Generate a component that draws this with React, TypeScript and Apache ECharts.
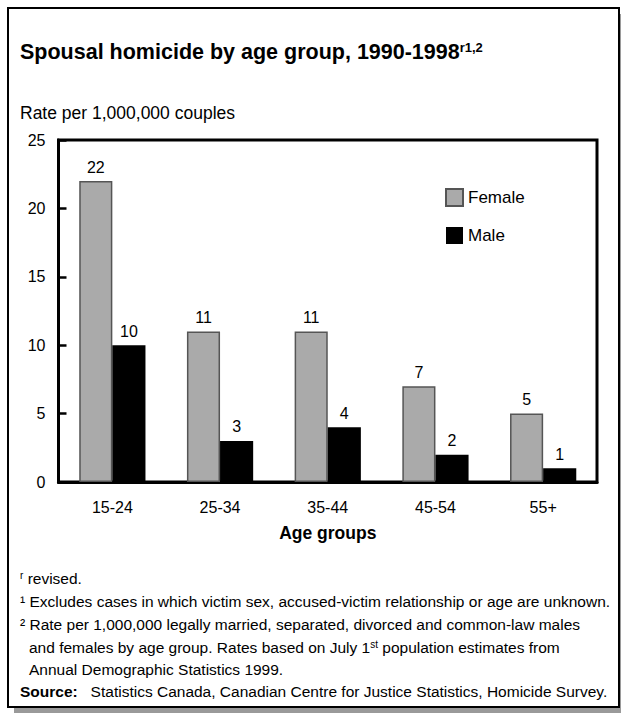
import React, { useEffect, useRef } from "react";
import * as echarts from "echarts";

const categories = ["15-24", "25-34", "35-44", "45-54", "55+"];
const femaleValues = [22, 11, 11, 7, 5];
const maleValues = [10, 3, 4, 2, 1];
const seriesNames = ["Female", "Male"];
const yTicks = { min: 0, max: 25, interval: 5 };

const titleText = "Spousal homicide by age group, 1990-1998";
const titleSup = "r1,2";
const yAxisTitle = "Rate per 1,000,000 couples";
const xAxisTitle = "Age groups";

const FONT = "'Liberation Sans', Arial, Helvetica, sans-serif";

export default function App() {
  const ref = useRef<HTMLDivElement>(null);
  useEffect(() => {
    if (!ref.current) return;
    const chart = echarts.init(ref.current, undefined, { renderer: "svg" });
    const noteStyle = { fontFamily: FONT, fontSize: 15.5, fill: "#000" };
    const supRich = { sup: { fontSize: 10, verticalAlign: "top", fontFamily: FONT, fill: "#000" } };
    const note = (x: number, y: number, text: string, extraRich: any = {}) => ({
      type: "text",
      x,
      y,
      silent: true,
      style: {
        text,
        ...noteStyle,
        verticalAlign: "middle",
        rich: { ...supRich, ...extraRich },
      },
    });
    chart.setOption({
      animation: false,
      backgroundColor: "#fff",
      textStyle: { fontFamily: FONT },
      graphic: [
        { type: "rect", z: -10, shape: { x: 14, y: 14, width: 611, height: 699 }, style: { fill: "#9a9a9a" }, silent: true },
        { type: "rect", z: -9, shape: { x: 8, y: 8, width: 611, height: 699 }, style: { fill: "#fff", stroke: "#000", lineWidth: 2 }, silent: true },
        {
          type: "text",
          x: 20,
          y: 52,
          silent: true,
          style: {
            text: `{t|${titleText}}{s|${titleSup}}`,
            verticalAlign: "middle",
            rich: {
              t: { fontFamily: FONT, fontSize: 21.5, fontWeight: "bold", fill: "#000", verticalAlign: "bottom" },
              s: { fontFamily: FONT, fontSize: 13, fontWeight: "bold", fill: "#000", verticalAlign: "top" },
            },
          },
        },
        { type: "text", x: 20, y: 113, silent: true, style: { text: yAxisTitle, fontFamily: FONT, fontSize: 17.5, fill: "#000", verticalAlign: "middle" } },
        note(20, 578, "{sup|r} revised."),
        note(20, 601, "¹ Excludes cases in which victim sex, accused-victim relationship or age are unknown."),
        note(20, 624, "² Rate per 1,000,000 legally married, separated, divorced and common-law males"),
        note(29, 647, "and females by age group. Rates based on July 1{sup|st} population estimates from"),
        note(29, 669, "Annual Demographic Statistics 1999."),
        note(20, 691, "{b|Source:}   Statistics Canada, Canadian Centre for Justice Statistics, Homicide Survey.", {
          b: { fontFamily: FONT, fontSize: 15.5, fontWeight: "bold", fill: "#000" },
        }),
      ],
      legend: {
        data: seriesNames,
        orient: "vertical",
        left: 445,
        top: 188,
        itemWidth: 17,
        itemHeight: 17,
        itemGap: 20,
        padding: 0,
        icon: "rect",
        textStyle: { fontFamily: FONT, fontSize: 17, color: "#000" },
      },
      grid: {
        left: 58.5,
        right: 24,
        top: 140,
        bottom: 233,
        show: true,
        borderColor: "#000",
        borderWidth: 3,
        containLabel: false,
      },
      xAxis: {
        type: "category",
        data: categories,
        axisLine: { show: true, lineStyle: { color: "#000", width: 3 } },
        axisTick: { show: false },
        axisLabel: { color: "#000", fontSize: 16, fontFamily: FONT, margin: 17 },
        name: xAxisTitle,
        nameLocation: "middle",
        nameGap: 42,
        nameTextStyle: { color: "#000", fontSize: 17.5, fontWeight: "bold", fontFamily: FONT },
      },
      yAxis: {
        type: "value",
        min: yTicks.min,
        max: yTicks.max,
        interval: yTicks.interval,
        axisLine: { show: true, lineStyle: { color: "#000", width: 3 } },
        axisTick: { show: true, inside: true, length: 8, lineStyle: { color: "#000", width: 2.5 } },
        splitLine: { show: false },
        axisLabel: { color: "#000", fontSize: 16, fontFamily: FONT, margin: 13 },
      },
      series: [
        {
          name: seriesNames[0],
          type: "bar",
          data: femaleValues,
          barGap: "0%",
          barCategoryGap: "38.5%",
          itemStyle: { color: "#aaaaaa", borderColor: "#555", borderWidth: 1.5 },
          label: { show: true, position: "top", distance: 6, color: "#000", fontSize: 16, fontFamily: FONT },
        },
        {
          name: seriesNames[1],
          type: "bar",
          data: maleValues,
          barGap: "0%",
          barCategoryGap: "38.5%",
          itemStyle: { color: "#000" },
          label: { show: true, position: "top", distance: 6, color: "#000", fontSize: 16, fontFamily: FONT },
        },
      ],
    });
    return () => chart.dispose();
  }, []);
  return <div ref={ref} style={{ position: "absolute", left: 0, top: 0, width: 621, height: 715 }} />;
}
